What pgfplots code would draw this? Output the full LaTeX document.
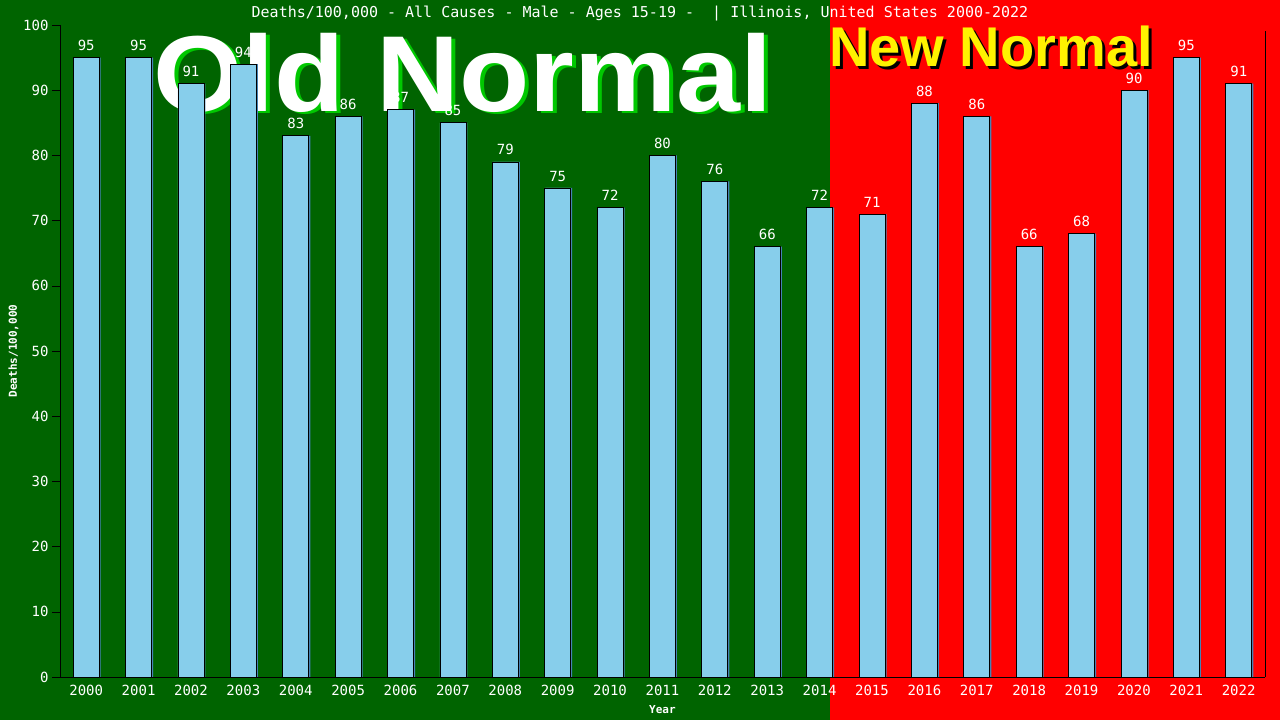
\documentclass[border=0pt]{standalone}
\usepackage{fontspec}
\usepackage{pgfplots}
\pgfplotsset{compat=1.18}
\setmainfont{DejaVu Sans}
\newfontfamily\monofont{DejaVu Sans Mono}
\newfontfamily\bigsans{Liberation Sans Bold}
\definecolor{bggreen}{HTML}{006400}
\definecolor{bgred}{HTML}{FF0000}
\definecolor{barblue}{HTML}{87CEEB}
\definecolor{barshadow}{HTML}{4682B4}
\definecolor{oldshadow}{HTML}{00C800}
\begin{document}
\begin{tikzpicture}[x=1bp,y=1bp]
\fill[bggreen] (0,0) rectangle (830,720);
\fill[bgred] (830,0) rectangle (1280,720);
% big labels behind the bars
\node[anchor=base, inner sep=0, xscale=1.065, text=oldshadow, font=\bigsans\fontsize{108bp}{108bp}\selectfont] at (467,606) {Old Normal};
\node[anchor=base, inner sep=0, xscale=1.065, text=white, font=\bigsans\fontsize{108bp}{108bp}\selectfont] at (463,608) {Old Normal};
\node[anchor=base, inner sep=0, text=black, font=\bigsans\fontsize{56bp}{56bp}\selectfont] at (994,650) {New Normal};
\node[anchor=base, inner sep=0, text=yellow, font=\bigsans\fontsize{56bp}{56bp}\selectfont] at (991,653) {New Normal};
\node[anchor=base, inner sep=0, text=white, font=\monofont\fontsize{15bp}{15bp}\selectfont] at (640,702) {Deaths/100,000 - All Causes - Male - Ages 15-19 -\ \ | Illinois, United States 2000-2022};
\begin{axis}[
  at={(60bp,43bp)}, anchor=south west,
  scale only axis, width=1205bp, height=652bp,
  xmin=1999.5, xmax=2022.5,
  ymin=0, ymax=100,
  ytick={0,10,...,100},
  xtick={2000,...,2022},
  xticklabel style={/pgf/number format/1000 sep={}, yshift=3bp},
  axis x line=bottom, axis y line=left,
  axis line style={black, -},
  tick align=outside, major tick length=8bp,
  xtick style={draw=none},
  ytick style={black},
  ticklabel style={text=white, font=\monofont\fontsize{14bp}{14bp}\selectfont},
  /pgf/number format/assume math mode=true,
  xlabel={Year}, ylabel={Deaths/100,000},
  label style={text=white, font=\monofont\bfseries\fontsize{11bp}{11bp}\selectfont},
  xlabel style={yshift=-3bp},
  ylabel style={yshift=-2bp},
  clip=false,
]
\addplot[ybar, bar width=26bp, bar shift=1.5bp, fill=barshadow, draw=none] coordinates {
(2000,95) (2001,95) (2002,91) (2003,94) (2004,83) (2005,86) (2006,87) (2007,85)
(2008,79) (2009,75) (2010,72) (2011,80) (2012,76) (2013,66) (2014,72) (2015,71)
(2016,88) (2017,86) (2018,66) (2019,68) (2020,90) (2021,95) (2022,91)};
\addplot[ybar, bar width=26bp, bar shift=0bp, fill=barblue, draw=black, line width=0.8bp,
  nodes near coords,
  every node near coord/.append style={text=white, font=\monofont\fontsize{14bp}{14bp}\selectfont, yshift=3bp}] coordinates {
(2000,95) (2001,95) (2002,91) (2003,94) (2004,83) (2005,86) (2006,87) (2007,85)
(2008,79) (2009,75) (2010,72) (2011,80) (2012,76) (2013,66) (2014,72) (2015,71)
(2016,88) (2017,86) (2018,66) (2019,68) (2020,90) (2021,95) (2022,91)};
\draw[black] (rel axis cs:1,0) -- (rel axis cs:1,0.99);
\end{axis}
\end{tikzpicture}
\end{document}
